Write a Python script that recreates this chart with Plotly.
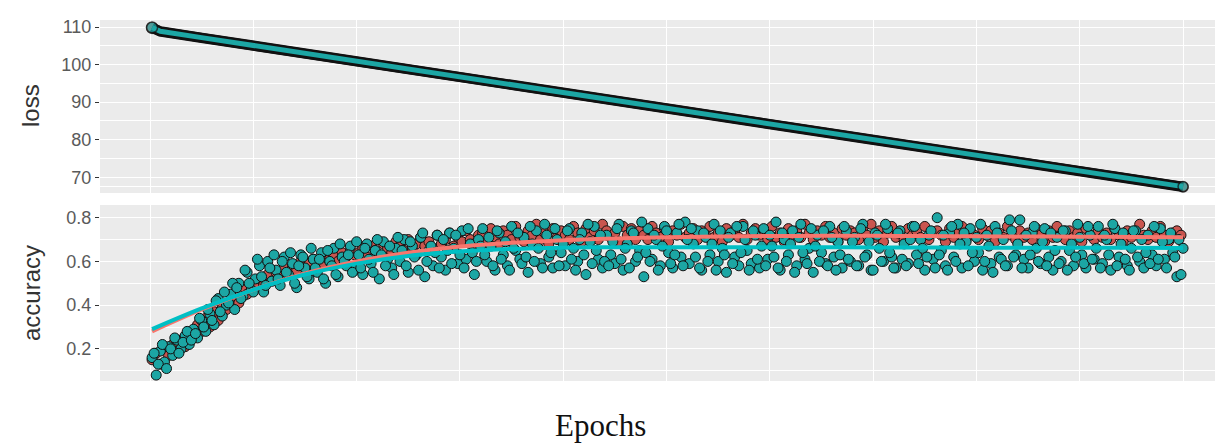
import plotly.graph_objects as go

# ---------------- data ----------------
acc_epochs_odd = list(range(1, 500, 2))   # 250 sampled epochs
acc_epochs_even = list(range(2, 501, 2))  # 250 sampled epochs

val_acc_odd = [
    0.16, 0.08, 0.19, 0.14, 0.21, 0.17, 0.24, 0.20, 0.26, 0.22,
    0.29, 0.25, 0.33, 0.28, 0.36, 0.31, 0.43, 0.35, 0.40, 0.45,
    0.38, 0.50, 0.44, 0.55, 0.47, 0.52, 0.58, 0.46, 0.60, 0.51,
    0.56, 0.49, 0.62, 0.54, 0.59, 0.48, 0.63, 0.57, 0.52, 0.61,
    0.55, 0.64, 0.50, 0.60, 0.66, 0.53, 0.62, 0.58, 0.67, 0.56,
    0.63, 0.54, 0.68, 0.59, 0.65, 0.52, 0.69, 0.61, 0.57, 0.66,
    0.60, 0.70, 0.55, 0.67, 0.63, 0.71, 0.53, 0.65, 0.58, 0.72,
    0.62, 0.56, 0.73, 0.66, 0.59, 0.74, 0.61, 0.68, 0.54, 0.70,
    0.75, 0.60, 0.67, 0.56, 0.73, 0.63, 0.58, 0.76, 0.65, 0.61,
    0.71, 0.55, 0.68, 0.74, 0.59, 0.77, 0.62, 0.57, 0.70, 0.64,
    0.58, 0.75, 0.66, 0.60, 0.73, 0.54, 0.69, 0.76, 0.61, 0.57,
    0.72, 0.63, 0.59, 0.77, 0.56, 0.68, 0.74, 0.60, 0.65, 0.53,
    0.75, 0.61, 0.70, 0.58, 0.76, 0.64, 0.57, 0.73, 0.62, 0.78,
    0.59, 0.68, 0.74, 0.56, 0.71, 0.63, 0.77, 0.60, 0.66, 0.55,
    0.73, 0.62, 0.58, 0.76, 0.65, 0.59, 0.72, 0.57, 0.75, 0.61,
    0.67, 0.78, 0.56, 0.70, 0.63, 0.74, 0.58, 0.77, 0.61, 0.66,
    0.55, 0.72, 0.64, 0.59, 0.76, 0.62, 0.69, 0.57, 0.74, 0.60,
    0.71, 0.58, 0.77, 0.63, 0.56, 0.73, 0.66, 0.60, 0.75, 0.62,
    0.57, 0.74, 0.68, 0.59, 0.76, 0.63, 0.70, 0.56, 0.72, 0.61,
    0.80, 0.65, 0.58, 0.73, 0.62, 0.77, 0.57, 0.69, 0.75, 0.60,
    0.64, 0.56, 0.72, 0.59, 0.76, 0.62, 0.70, 0.58, 0.74, 0.63,
    0.79, 0.61, 0.57, 0.73, 0.66, 0.59, 0.75, 0.62, 0.56, 0.71,
    0.60, 0.74, 0.65, 0.58, 0.77, 0.63, 0.57, 0.72, 0.61, 0.76,
    0.59, 0.70, 0.56, 0.75, 0.62, 0.73, 0.58, 0.66, 0.74, 0.60,
    0.57, 0.72, 0.63, 0.58, 0.75, 0.61, 0.70, 0.64, 0.53, 0.54,
]

val_acc_even = [
    0.18, 0.13, 0.22, 0.11, 0.20, 0.25, 0.18, 0.23, 0.28, 0.24,
    0.27, 0.34, 0.30, 0.38, 0.33, 0.42, 0.37, 0.46, 0.41, 0.50,
    0.48, 0.43, 0.56, 0.50, 0.46, 0.61, 0.53, 0.49, 0.57, 0.63,
    0.52, 0.60, 0.55, 0.64, 0.50, 0.58, 0.62, 0.53, 0.66, 0.57,
    0.61, 0.52, 0.65, 0.58, 0.54, 0.68, 0.60, 0.63, 0.55, 0.69,
    0.57, 0.66, 0.61, 0.55, 0.70, 0.63, 0.58, 0.67, 0.54, 0.71,
    0.65, 0.58, 0.69, 0.62, 0.56, 0.73, 0.60, 0.67, 0.64, 0.57,
    0.70, 0.65, 0.59, 0.72, 0.63, 0.57, 0.75, 0.64, 0.60, 0.67,
    0.63, 0.71, 0.58, 0.74, 0.61, 0.69, 0.56, 0.66, 0.73, 0.59,
    0.62, 0.76, 0.60, 0.66, 0.57, 0.72, 0.64, 0.75, 0.58, 0.68,
    0.74, 0.61, 0.56, 0.70, 0.63, 0.77, 0.59, 0.65, 0.72, 0.60,
    0.58, 0.69, 0.75, 0.61, 0.66, 0.57, 0.73, 0.62, 0.78, 0.64,
    0.60, 0.72, 0.56, 0.67, 0.74, 0.59, 0.63, 0.77, 0.58, 0.70,
    0.75, 0.62, 0.57, 0.73, 0.60, 0.68, 0.56, 0.74, 0.63, 0.71,
    0.59, 0.76, 0.64, 0.70, 0.56, 0.74, 0.61, 0.67, 0.58, 0.72,
    0.62, 0.57, 0.73, 0.60, 0.68, 0.55, 0.71, 0.64, 0.59, 0.75,
    0.67, 0.60, 0.74, 0.58, 0.71, 0.56, 0.63, 0.76, 0.61, 0.69,
    0.58, 0.75, 0.62, 0.69, 0.56, 0.72, 0.60, 0.77, 0.64, 0.57,
    0.73, 0.61, 0.58, 0.70, 0.76, 0.59, 0.66, 0.62, 0.74, 0.57,
    0.63, 0.72, 0.56, 0.76, 0.60, 0.68, 0.73, 0.58, 0.64, 0.71,
    0.77, 0.60, 0.67, 0.55, 0.73, 0.61, 0.58, 0.79, 0.62, 0.68,
    0.57, 0.72, 0.63, 0.76, 0.60, 0.69, 0.58, 0.73, 0.65, 0.59,
    0.74, 0.56, 0.68, 0.62, 0.71, 0.59, 0.76, 0.61, 0.66, 0.57,
    0.72, 0.63, 0.77, 0.58, 0.68, 0.61, 0.56, 0.74, 0.62, 0.70,
    0.64, 0.59, 0.76, 0.61, 0.69, 0.57, 0.73, 0.62, 0.70, 0.66,
]

train_acc = [
    0.15, 0.18, 0.13, 0.20, 0.17, 0.22, 0.19, 0.24, 0.21, 0.27,
    0.26, 0.31, 0.28, 0.34, 0.30, 0.37, 0.33, 0.40, 0.38, 0.42,
    0.44, 0.41, 0.47, 0.45, 0.50, 0.48, 0.52, 0.49, 0.54, 0.51,
    0.55, 0.53, 0.57, 0.54, 0.58, 0.56, 0.60, 0.57, 0.59, 0.61,
    0.60, 0.58, 0.62, 0.61, 0.63, 0.60, 0.64, 0.62, 0.65, 0.63,
    0.64, 0.66, 0.62, 0.67, 0.65, 0.63, 0.68, 0.66, 0.64, 0.69,
    0.67, 0.65, 0.70, 0.66, 0.68, 0.71, 0.67, 0.69, 0.66, 0.72,
    0.68, 0.70, 0.73, 0.67, 0.71, 0.69, 0.74, 0.70, 0.68, 0.72,
    0.73, 0.69, 0.75, 0.71, 0.68, 0.74, 0.72, 0.70, 0.76, 0.71,
    0.69, 0.74, 0.72, 0.77, 0.70, 0.73, 0.68, 0.75, 0.71, 0.74,
    0.72, 0.70, 0.76, 0.73, 0.69, 0.75, 0.71, 0.74, 0.70, 0.77,
    0.74, 0.71, 0.73, 0.69, 0.76, 0.72, 0.75, 0.70, 0.74, 0.72,
    0.70, 0.76, 0.73, 0.71, 0.75, 0.69, 0.74, 0.72, 0.77, 0.71,
    0.73, 0.75, 0.70, 0.74, 0.72, 0.76, 0.71, 0.73, 0.69, 0.75,
    0.72, 0.74, 0.71, 0.77, 0.70, 0.73, 0.75, 0.72, 0.74, 0.70,
    0.76, 0.71, 0.73, 0.69, 0.75, 0.72, 0.74, 0.71, 0.77, 0.73,
    0.70, 0.74, 0.72, 0.76, 0.71, 0.73, 0.69, 0.75, 0.72, 0.74,
    0.73, 0.70, 0.75, 0.72, 0.77, 0.71, 0.74, 0.69, 0.73, 0.76,
    0.71, 0.73, 0.70, 0.75, 0.72, 0.74, 0.71, 0.76, 0.70, 0.73,
    0.74, 0.72, 0.69, 0.75, 0.71, 0.73, 0.76, 0.70, 0.74, 0.72,
    0.70, 0.75, 0.72, 0.74, 0.69, 0.73, 0.71, 0.76, 0.72, 0.70,
    0.74, 0.71, 0.73, 0.70, 0.75, 0.72, 0.69, 0.74, 0.71, 0.76,
    0.72, 0.70, 0.74, 0.71, 0.73, 0.69, 0.75, 0.72, 0.70, 0.74,
    0.71, 0.73, 0.70, 0.75, 0.72, 0.69, 0.74, 0.71, 0.73, 0.77,
    0.72, 0.70, 0.74, 0.71, 0.76, 0.72, 0.69, 0.73, 0.74, 0.72,
]

smooth_epochs = [1, 25, 50, 75, 100, 125, 150, 175, 200, 225, 250,
                 275, 300, 325, 350, 375, 400, 425, 450, 475, 500]
val_acc_smooth = [0.29, 0.385, 0.47, 0.54, 0.59, 0.625, 0.645, 0.657, 0.663, 0.665, 0.665,
                  0.665, 0.665, 0.665, 0.664, 0.664, 0.663, 0.663, 0.662, 0.662, 0.661]
train_acc_smooth = [0.28, 0.38, 0.47, 0.545, 0.60, 0.64, 0.668, 0.685, 0.697, 0.705, 0.71,
                    0.714, 0.716, 0.717, 0.717, 0.716, 0.715, 0.714, 0.713, 0.712, 0.711]

loss_epochs = [1, 5, 25, 50, 75, 100, 125, 150, 175, 200, 225,
               250, 275, 300, 325, 350, 375, 400, 425, 450, 475, 500]
train_loss = [109.9, 108.9, 107.2, 105.1, 103.0, 100.9, 98.8, 96.7, 94.6, 92.5, 90.4,
              88.3, 86.2, 84.1, 82.0, 79.9, 77.8, 75.7, 73.7, 71.6, 69.5, 67.5]
val_loss = [109.8, 108.8, 107.1, 105.0, 102.9, 100.8, 98.7, 96.6, 94.5, 92.4, 90.3,
            88.2, 86.1, 84.0, 81.9, 79.8, 77.7, 75.6, 73.6, 71.5, 69.4, 67.4]

loss_ticks = [70, 80, 90, 100, 110]
acc_ticks = [0.2, 0.4, 0.6, 0.8]

# ---------------- style ----------------
RED = "#F8766D"
TEAL = "#00BFC4"
RED_FILL = "#C9554F"
TEAL_FILL = "#1CA6A4"
PANEL = "#EBEBEB"
OUT = "#111111"

fig = go.Figure()

# loss panel
for ys, line_col, fill_col in [(val_loss, RED, RED_FILL), (train_loss, TEAL, TEAL_FILL)]:
    ends = [11] + [0] * (len(loss_epochs) - 2) + [10]
    fig.add_trace(go.Scatter(x=loss_epochs, y=ys, mode="lines", xaxis="x", yaxis="y",
                             line=dict(color=OUT, width=10), showlegend=False,
                             hoverinfo="skip"))
    fig.add_trace(go.Scatter(x=loss_epochs, y=ys, mode="lines+markers", xaxis="x", yaxis="y",
                             line=dict(color=fill_col, width=5),
                             marker=dict(size=ends, color=fill_col, line=dict(color=OUT, width=1.5)),
                             showlegend=False))

# accuracy points: training (red) first, validation (teal) on top
fig.add_trace(go.Scatter(x=acc_epochs_odd, y=train_acc, mode="markers", xaxis="x2", yaxis="y2",
                         marker=dict(size=10, color=RED_FILL, line=dict(color=OUT, width=1)),
                         showlegend=False))
for xs, ys in [(acc_epochs_odd, val_acc_odd), (acc_epochs_even, val_acc_even)]:
    fig.add_trace(go.Scatter(x=xs, y=ys, mode="markers", xaxis="x2", yaxis="y2",
                             marker=dict(size=10, color=TEAL_FILL, line=dict(color=OUT, width=1)),
                             showlegend=False))
# smooth curves
fig.add_trace(go.Scatter(x=smooth_epochs, y=train_acc_smooth, mode="lines", xaxis="x2", yaxis="y2",
                         line=dict(color=RED, width=4, shape="spline"), showlegend=False))
fig.add_trace(go.Scatter(x=smooth_epochs, y=val_acc_smooth, mode="lines", xaxis="x2", yaxis="y2",
                         line=dict(color=TEAL, width=4, shape="spline"), showlegend=False))

xcommon = dict(range=[-24.2, 523.2], showticklabels=False, ticks="",
               showgrid=True, gridcolor="white", gridwidth=1.3,
               tick0=0, dtick=100, zeroline=False, showline=False,
               minor=dict(dtick=50, tick0=0, showgrid=True, gridcolor="white", gridwidth=0.6))

ycommon = dict(showgrid=True, gridcolor="white", gridwidth=1.3, zeroline=False, showline=False,
               ticks="outside", ticklen=4, tickwidth=1.2, tickcolor="#333333",
               tickfont=dict(family="Liberation Sans, Arial, sans-serif", size=18, color="#5a5a5a"))

L, R, T, B = 92, 0, 12, 72
W, H = 1223, 445
plot_w = W - L - R
plot_h = H - T - B


def px_x(px):
    return (px - L) / plot_w


def px_y(py):
    return (H - B - py) / plot_h


fig.update_layout(
    width=W, height=H,
    margin=dict(l=L, r=R, t=T, b=B),
    paper_bgcolor="white", plot_bgcolor=PANEL,
    xaxis=dict(domain=[0, 1], anchor="y", **xcommon),
    xaxis2=dict(domain=[0, 1], anchor="y2", **xcommon),
    yaxis=dict(domain=[0.5208, 1], anchor="x", range=[65.8, 111.9],
               tickvals=loss_ticks, ticktext=[str(t) for t in loss_ticks],
               minor=dict(tickvals=[67.5, 75, 85, 95, 105], showgrid=True,
                          gridcolor="white", gridwidth=0.6, ticks=""),
               **ycommon),
    yaxis2=dict(domain=[0, 0.4875], anchor="x2", range=[0.053, 0.858],
                tickvals=acc_ticks, ticktext=["0.2", "0.4", "0.6", "0.8"],
                minor=dict(tickvals=[0.1, 0.3, 0.5, 0.7], showgrid=True,
                           gridcolor="white", gridwidth=0.6, ticks=""),
                **ycommon),
    annotations=[
        dict(text="loss", x=px_x(23), y=px_y(98), xref="paper", yref="paper", showarrow=False,
             textangle=-90, font=dict(family="Liberation Sans, Arial, sans-serif", size=24, color="#333333"),
             xanchor="center", yanchor="middle"),
        dict(text="accuracy", x=px_x(23), y=px_y(285), xref="paper", yref="paper", showarrow=False,
             textangle=-90, font=dict(family="Liberation Sans, Arial, sans-serif", size=24, color="#333333"),
             xanchor="center", yanchor="middle"),
        dict(text="Epochs", x=px_x(592), y=px_y(417), xref="paper", yref="paper", showarrow=False,
             font=dict(family="Liberation Serif, Times New Roman, serif", size=31, color="#111111"),
             xanchor="center", yanchor="middle"),
    ],
)

fig.write_html("out.html")
